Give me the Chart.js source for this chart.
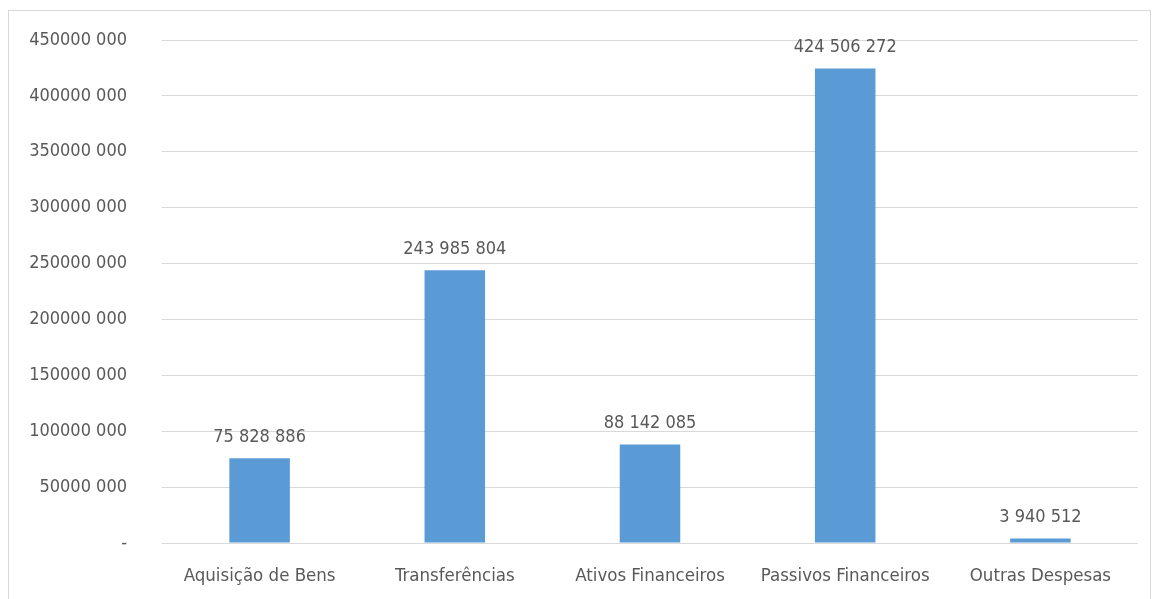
<!DOCTYPE html>
<html>
<head>
<meta charset="utf-8">
<script src="https://cdn.jsdelivr.net/npm/chart.js@4"></script>
<style>
    html, body { margin: 0; padding: 0; background: #fff; }
    #wrap { position: relative; width: 1153px; height: 599px; overflow: hidden; }
    #frame { position: absolute; left: 8px; top: 10px; width: 1141px; height: 600px; border: 1px solid #d9d9d9; }
    canvas { position: absolute; left: 0; top: 0; }
</style>
</head>
<body>
<div id="wrap">
    <div id="frame"></div>
    <canvas id="barChart" width="1153" height="599"></canvas>
</div>
<script>
const categories = ['Aquisição de Bens', 'Transferências', 'Ativos Financeiros', 'Passivos Financeiros', 'Outras Despesas'];
const values = [75828886, 243985804, 88142085, 424506272, 3940512];
const valueLabels = ['75 828 886', '243 985 804', '88 142 085', '424 506 272', '3 940 512'];
const yTickLabels = ['-', '50000 000', '100000 000', '150000 000', '200000 000', '250000 000', '300000 000', '350000 000', '400000 000', '450000 000'];

const fontFamily = '"Liberation Sans Narrow", "DejaVu Sans Condensed", sans-serif';
const textColor = '#595959';

// draws the number above each bar
const valueLabelPlugin = {
    id: 'valueLabels',
    afterDatasetsDraw(chart) {
        const ctx = chart.ctx;
        const meta = chart.getDatasetMeta(0);
        ctx.save();
        ctx.font = '18px ' + fontFamily;
        ctx.fillStyle = textColor;
        ctx.textAlign = 'center';
        ctx.textBaseline = 'bottom';
        meta.data.forEach((bar, i) => {
            ctx.fillText(valueLabels[i], bar.x, bar.y - 12);
        });
        ctx.restore();
    }
};

const ctx = document.getElementById('barChart').getContext('2d');
new Chart(ctx, {
    type: 'bar',
    data: {
        labels: categories,
        datasets: [{
            data: values,
            backgroundColor: '#5b9bd5',
            borderWidth: 0,
            categoryPercentage: 1,
            barPercentage: 0.31
        }]
    },
    options: {
        responsive: false,
        animation: false,
        layout: { padding: { left: 10, right: 15, top: 40, bottom: 0 } },
        plugins: { legend: { display: false }, tooltip: { enabled: false } },
        scales: {
            x: {
                grid: { display: false, drawTicks: false },
                border: { display: false },
                ticks: { color: textColor, font: { family: fontFamily, size: 18.5 }, padding: 22, maxRotation: 0 },
                afterFit(scale) { scale.height = 56; }
            },
            y: {
                min: 0,
                max: 450000000,
                // invisible tick marks push the labels left instead of ticks.padding
                grid: { color: '#d9d9d9', lineWidth: 1, drawTicks: true, tickLength: 35, tickColor: 'rgba(0,0,0,0)' },
                border: { display: false },
                ticks: {
                    stepSize: 50000000,
                    color: textColor,
                    font: { family: fontFamily, size: 18 },
                    padding: 0,
                    callback: (v) => yTickLabels[Math.round(v / 50000000)]
                },
                afterFit(scale) { scale.width = 152; }
            }
        }
    },
    plugins: [valueLabelPlugin]
});
</script>
</body>
</html>
